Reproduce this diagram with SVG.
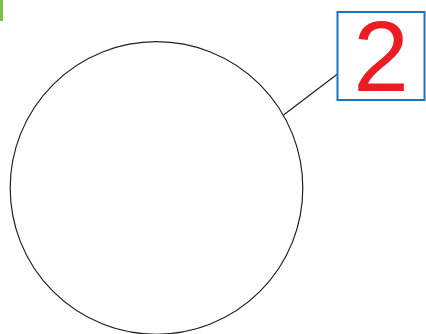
<svg xmlns="http://www.w3.org/2000/svg" width="426" height="334" viewBox="0 0 426 334">
<style>
.outline{fill:none;stroke:#231f20;stroke-width:1.2}
.lbl{font-family:"Liberation Sans",Arial,sans-serif;font-size:100px;fill:#ed1c24}
</style>
<rect x="0" y="0" width="426" height="334" fill="#ffffff"/>
<rect x="0" y="0" width="3" height="21" fill="#7ac143"/>
<g id="circle">
<circle class="outline" cx="156.5" cy="188" r="146.3"/>
</g>
<g id="connectors">
<line class="outline" x1="283.5" y1="115" x2="337.5" y2="74"/>
</g>
<g id="label-2">
<rect x="337.5" y="12" width="87" height="88" fill="#ffffff" stroke="#1a75bc" stroke-width="2"/>
<text class="lbl" x="381" y="91" text-anchor="middle">2</text>
</g>
</svg>
